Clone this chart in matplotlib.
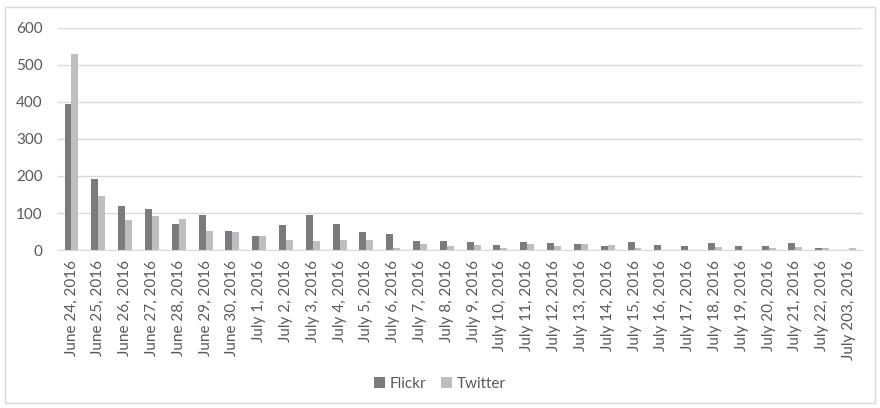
"""
plot.py
Daily photo / tweet counts, Flickr vs Twitter, June 24 - July 22 2016.
"""

import numpy as np
import matplotlib
matplotlib.use("Agg")
import matplotlib.pyplot as plt
from matplotlib.patches import Rectangle

# -----------------------------
# Data
# -----------------------------
dates = [
    "June 24, 2016", "June 25, 2016", "June 26, 2016", "June 27, 2016",
    "June 28, 2016", "June 29, 2016", "June 30, 2016",
    "July 1, 2016", "July 2, 2016", "July 3, 2016", "July 4, 2016",
    "July 5, 2016", "July 6, 2016", "July 7, 2016", "July 8, 2016",
    "July 9, 2016", "July 10, 2016", "July 11, 2016", "July 12, 2016",
    "July 13, 2016", "July 14, 2016", "July 15, 2016", "July 16, 2016",
    "July 17, 2016", "July 18, 2016", "July 19, 2016", "July 20, 2016",
    "July 21, 2016", "July 22, 2016", "July 203, 2016",
]
flickr = [395, 192, 119, 111, 70, 95, 51, 38, 68, 95, 70, 49, 43, 24, 24,
          22, 14, 22, 19, 16, 11, 22, 14, 11, 19, 11, 11, 19, 5, 1]
twitter = [530, 146, 81, 92, 84, 51, 49, 38, 27, 24, 27, 27, 5, 16, 11,
           14, 5, 16, 11, 16, 14, 5, 1, 1, 8, 1, 5, 8, 5, 5]

# -----------------------------
# Style
# -----------------------------
plt.rcParams["font.family"] = ["Lato", "DejaVu Sans"]
TEXT = "#595959"
GRID = "#d9d9d9"
DARK = "#7b7b7f"
LIGHT = "#bebec1"

fig = plt.figure(figsize=(8.8, 4.08), dpi=100)
ax = fig.add_axes([0.066, 0.387, 0.914, 0.545])

x = np.arange(len(dates))
w = 0.26
ax.bar(x - w / 2, flickr, w, color=DARK, label="Flickr")
ax.bar(x + w / 2, twitter, w, color=LIGHT, label="Twitter")

ax.set_xlim(-0.5, len(dates) - 0.5)
ax.set_ylim(0, 600)
ax.set_yticks(range(0, 601, 100))
ax.yaxis.grid(True, color=GRID, linewidth=1)
ax.set_axisbelow(True)

for s in ["top", "right", "left"]:
    ax.spines[s].set_visible(False)
ax.spines["bottom"].set_color(GRID)

ax.set_xticks(x)
ax.set_xticklabels(dates, rotation=90)
ax.tick_params(axis="both", length=0, colors=TEXT, labelsize=11)
ax.tick_params(axis="y", pad=11)
ax.tick_params(axis="x", pad=7)

fig.legend(loc="center", bbox_to_anchor=(0.5, 0.059), ncol=2, frameon=False,
           fontsize=11, labelcolor=TEXT, handlelength=0.7, handleheight=0.7,
           handletextpad=0.3, columnspacing=1.0)

# chart area border
fig.patches.append(Rectangle((0.006, 0.012), 0.988, 0.97, transform=fig.transFigure,
                             fill=False, edgecolor=GRID, linewidth=1))

fig.savefig("out.png", dpi=100)
